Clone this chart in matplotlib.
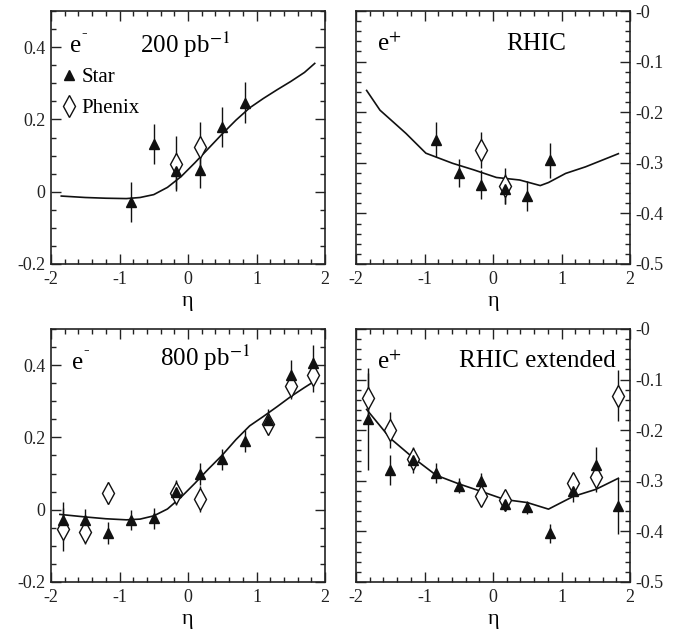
import matplotlib
matplotlib.use("Agg")
import matplotlib.pyplot as plt
from matplotlib.lines import Line2D
from matplotlib.ticker import MultipleLocator, FuncFormatter
import numpy as np

plt.rcParams['font.family'] = ['Liberation Serif', 'DejaVu Serif']
plt.rcParams['mathtext.fontset'] = 'stix'
plt.rcParams['axes.unicode_minus'] = False

# ---------------- data ----------------
# top-left: e-, 200 pb^-1
tl_star_x = [-0.83, -0.5, -0.17, 0.17, 0.5, 0.83]
tl_star_y = [-0.028, 0.132, 0.058, 0.060, 0.180, 0.246]
tl_star_e = [0.055, 0.054, 0.050, 0.050, 0.055, 0.057]
tl_phx_x = [-0.17, 0.17]
tl_phx_y = [0.077, 0.123]
tl_phx_e = [0.076, 0.070]
tl_curve_x = [-1.85, -1.5, -1.2, -0.9, -0.7, -0.5, -0.3, -0.1, 0.1, 0.3, 0.5,
              0.7, 0.9, 1.1, 1.3, 1.5, 1.7, 1.85]
tl_curve_y = [-0.012, -0.016, -0.018, -0.019, -0.016, -0.008, 0.012, 0.042,
              0.080, 0.120, 0.160, 0.198, 0.232, 0.258, 0.282, 0.305, 0.330, 0.355]

# top-right: e+, RHIC
tr_star_x = [-0.83, -0.5, -0.17, 0.17, 0.5, 0.83]
tr_star_y = [-0.254, -0.320, -0.343, -0.352, -0.366, -0.295]
tr_star_e = [0.035, 0.028, 0.028, 0.030, 0.030, 0.035]
tr_phx_x = [-0.17, 0.17]
tr_phx_y = [-0.275, -0.346]
tr_phx_e = [0.036, 0.035]
tr_curve_x = [-1.845, -1.65, -1.41, -1.27, -0.98, -0.59, -0.28, 0.05, 0.39,
              0.69, 0.81, 1.06, 1.35, 1.72, 1.83]
tr_curve_y = [-0.157, -0.196, -0.225, -0.242, -0.281, -0.301, -0.314, -0.329,
              -0.334, -0.345, -0.339, -0.321, -0.308, -0.288, -0.282]

# bottom-left: e-, 800 pb^-1
bl_star_x = [-1.83, -1.5, -1.17, -0.83, -0.5, -0.17, 0.17, 0.5, 0.83, 1.17, 1.5, 1.83]
bl_star_y = [-0.028, -0.028, -0.065, -0.028, -0.024, 0.050, 0.099, 0.139,
             0.191, 0.248, 0.373, 0.405]
bl_star_e = [0.050, 0.030, 0.030, 0.028, 0.028, 0.030, 0.030, 0.030, 0.030,
             0.030, 0.040, 0.050]
bl_phx_x = [-1.83, -1.5, -1.17, -0.17, 0.17, 1.17, 1.5, 1.83]
bl_phx_y = [-0.054, -0.061, 0.047, 0.047, 0.029, 0.236, 0.342, 0.373]
bl_phx_e = [0.060, 0.035, 0.030, 0.035, 0.036, 0.030, 0.037, 0.046]
bl_curve_x = [-1.87, -1.5, -1.2, -0.9, -0.7, -0.5, -0.3, -0.1, 0.1, 0.3, 0.5,
              0.7, 0.9, 1.1, 1.3, 1.5, 1.7, 1.85]
bl_curve_y = [-0.013, -0.020, -0.025, -0.028, -0.026, -0.017, 0.002, 0.035,
              0.073, 0.113, 0.151, 0.194, 0.232, 0.258, 0.285, 0.313, 0.338, 0.356]

# bottom-right: e+, RHIC extended
br_star_x = [-1.83, -1.5, -1.17, -0.83, -0.5, -0.17, 0.17, 0.5, 0.83, 1.17, 1.5, 1.83]
br_star_y = [-0.178, -0.279, -0.259, -0.285, -0.310, -0.300, -0.345, -0.352,
             -0.404, -0.321, -0.269, -0.350]
br_star_e = [0.100, 0.030, 0.025, 0.020, 0.015, 0.015, 0.015, 0.013, 0.018,
             0.020, 0.035, 0.055]
br_phx_x = [-1.83, -1.5, -1.17, -0.17, 0.17, 1.17, 1.5, 1.83]
br_phx_y = [-0.137, -0.200, -0.256, -0.330, -0.338, -0.304, -0.293, -0.132]
br_phx_e = [0.050, 0.035, 0.020, 0.020, 0.020, 0.020, 0.030, 0.050]
br_curve_x = [-1.845, -1.5, -1.17, -0.83, -0.5, -0.17, 0.17, 0.5, 0.81,
              1.17, 1.5, 1.83]
br_curve_y = [-0.159, -0.216, -0.254, -0.289, -0.306, -0.321, -0.337, -0.343,
              -0.356, -0.331, -0.317, -0.295]

x_ticks = [-2, -1, 0, 1, 2]

fig = plt.figure(figsize=(6.89, 6.33), dpi=100)
W = 274 / 689
H = 253 / 633
pos = {
    'tl': [51 / 689, 1 - 264 / 633, W, H],
    'tr': [356 / 689, 1 - 264 / 633, W, H],
    'bl': [51 / 689, 1 - 582 / 633, W, H],
    'br': [356 / 689, 1 - 582 / 633, W, H],
}

DIA = 11
TRI = 7.5


def style(ax, right):
    ax.set_xlim(-2, 2)
    ax.set_xticks(x_ticks)
    ax.xaxis.set_minor_locator(MultipleLocator(0.2))
    if right:
        ax.set_ylim(-0.5, 0)
        ax.yaxis.set_major_locator(MultipleLocator(0.1))
        ax.yaxis.set_minor_locator(MultipleLocator(0.02))
        ax.yaxis.set_major_formatter(FuncFormatter(
            lambda v, p: '-0' if abs(v) < 1e-9 else ('%.1f' % v)))
        ax.tick_params(axis='y', which='both', left=True, right=True,
                       labelleft=False, labelright=True)
    else:
        ax.set_ylim(-0.2, 0.5)
        ax.set_yticks([-0.2, 0, 0.2, 0.4])
        ax.yaxis.set_minor_locator(MultipleLocator(0.05))
        ax.yaxis.set_major_formatter(FuncFormatter(
            lambda v, p: '0' if abs(v) < 1e-9 else ('%.1f' % v)))
        ax.tick_params(axis='y', which='both', left=True, right=True,
                       labelleft=True, labelright=False)
    ax.tick_params(axis='x', which='both', top=True, bottom=True)
    ax.tick_params(which='both', direction='in', width=1.0, labelsize=13,
                   colors='#222222')
    ax.tick_params(axis='y', pad=4)
    ax.tick_params(axis='x', pad=5)
    ax.tick_params(which='major', length=7)
    ax.tick_params(which='minor', length=3.5)
    for s in ax.spines.values():
        s.set_linewidth(1.2)
        s.set_color('#222222')
    ax.set_xlabel('η', fontsize=16, labelpad=3)


def draw(ax, sx, sy, se, px, py, pe, cx, cy):
    ax.plot(cx, cy, color='#111111', lw=1.2, zorder=2)
    ax.errorbar(px, py, yerr=pe, fmt='none', ecolor='#111111', elinewidth=1.0,
                capsize=0, zorder=3)
    ax.errorbar(sx, sy, yerr=se, fmt='none', ecolor='#111111', elinewidth=1.0,
                capsize=0, zorder=3)
    ax.plot(px, py, ls='none', marker='d', markersize=DIA, mfc='white',
            mec='#111111', mew=1.0, zorder=4)
    ax.plot(sx, sy, ls='none', marker='^', markersize=TRI, color='#111111',
            zorder=5)


def e_minus(ax, x, y):
    ax.text(x, y, 'e', transform=ax.transAxes, fontsize=18, va='baseline')
    ax.text(x + 0.042, y + 0.058, '-', transform=ax.transAxes, fontsize=12,
            va='baseline')


E_PLUS = r'e$^{+}$'

ax_tl = fig.add_axes(pos['tl'])
draw(ax_tl, tl_star_x, tl_star_y, tl_star_e, tl_phx_x, tl_phx_y, tl_phx_e,
     tl_curve_x, tl_curve_y)
style(ax_tl, False)
e_minus(ax_tl, 0.07, 0.838)
ax_tl.text(0.325, 0.834, r'200 pb$^{-1}$', transform=ax_tl.transAxes,
           fontsize=18, va='baseline')
handles = [Line2D([], [], ls='none', marker='^', markersize=TRI, color='#111111'),
           Line2D([], [], ls='none', marker='d', markersize=DIA, mfc='white',
                  mec='#111111')]
ax_tl.legend(handles, ['Star', 'Phenix'], loc='upper left',
             bbox_to_anchor=(0.005, 0.81), frameon=False, fontsize=15,
             handlelength=0.8, handletextpad=0.2, labelspacing=0.55,
             borderaxespad=0.0)

ax_tr = fig.add_axes(pos['tr'])
draw(ax_tr, tr_star_x, tr_star_y, tr_star_e, tr_phx_x, tr_phx_y, tr_phx_e,
     tr_curve_x, tr_curve_y)
style(ax_tr, True)
ax_tr.text(0.077, 0.842, E_PLUS, transform=ax_tr.transAxes,
           fontsize=18, va='baseline')
ax_tr.text(0.55, 0.846, 'RHIC', transform=ax_tr.transAxes,
           fontsize=18, va='baseline')

ax_bl = fig.add_axes(pos['bl'])
draw(ax_bl, bl_star_x, bl_star_y, bl_star_e, bl_phx_x, bl_phx_y, bl_phx_e,
     bl_curve_x, bl_curve_y)
style(ax_bl, False)
e_minus(ax_bl, 0.075, 0.843)
ax_bl.text(0.398, 0.855, r'800 pb$^{-1}$', transform=ax_bl.transAxes,
           fontsize=18, va='baseline')

ax_br = fig.add_axes(pos['br'])
draw(ax_br, br_star_x, br_star_y, br_star_e, br_phx_x, br_phx_y, br_phx_e,
     br_curve_x, br_curve_y)
style(ax_br, True)
ax_br.text(0.077, 0.842, E_PLUS, transform=ax_br.transAxes,
           fontsize=18, va='baseline')
ax_br.text(0.376, 0.851, 'RHIC extended', transform=ax_br.transAxes,
           fontsize=18, va='baseline')

fig.savefig('out.png', dpi=100)
